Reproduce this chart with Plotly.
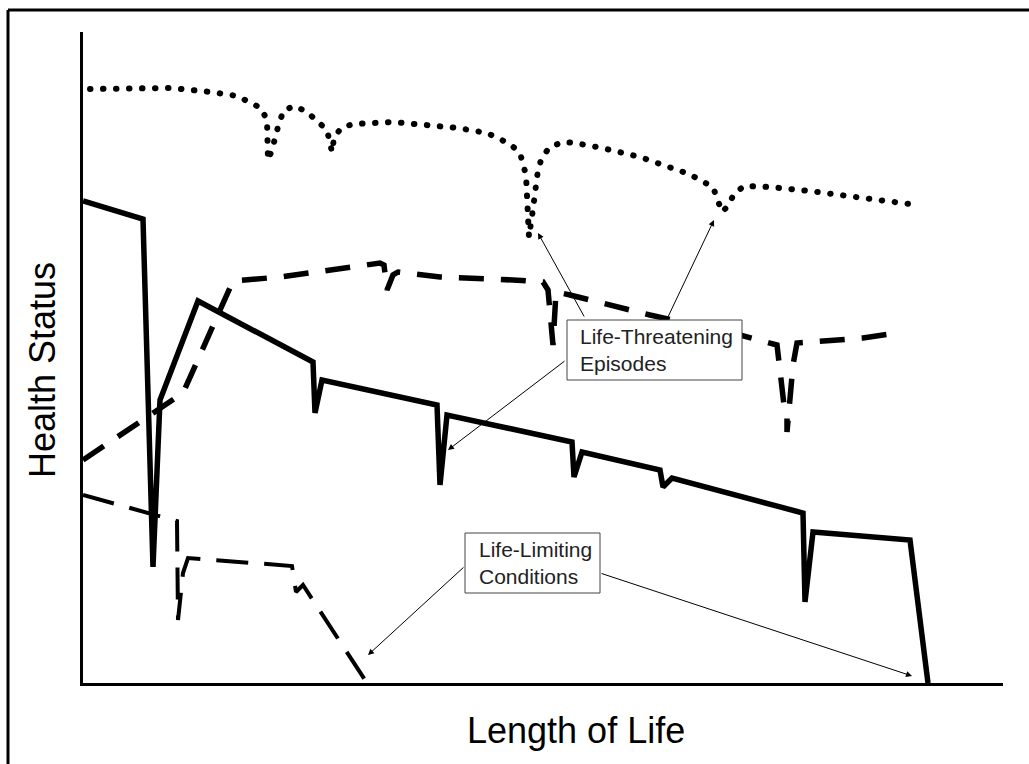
import plotly.graph_objects as go

# Data (x = length of life units, y = health status units)
dot_x = [7, 88, 128, 154, 178, 184, 185, 189, 196, 201, 212, 224, 244, 249, 251, 258, 270, 310, 375, 404, 427, 437, 443, 446, 450, 455, 459, 467, 480, 492, 519, 557, 606, 630, 639, 645, 651, 661, 687, 727, 780, 834]
dot_y = [594, 595, 591, 587, 575, 563, 523, 533, 560, 573, 577, 571, 553, 531, 545, 555, 559, 561, 555, 550, 539, 530, 508, 446, 474, 513, 526, 536, 541, 540, 535, 526, 509, 496, 471, 477, 489, 497, 496, 492, 485, 478]

solid_x = [0, 60, 70, 77, 115, 230, 232, 239, 354, 357, 364, 489, 491, 499, 577, 580, 589, 720, 722, 730, 827, 845]
solid_y = [482, 464, 116, 283, 382, 321, 270, 303, 278, 198, 268, 241, 206, 231, 213, 196, 205, 170, 81, 151, 143, 0]

dash_x = [0, 100, 150, 197, 269, 297, 301, 304, 310, 315, 357, 430, 460, 465, 470, 473, 487, 567, 657, 694, 701, 704, 704, 710, 714, 780, 807]
dash_y = [223, 290, 402, 406, 416, 420, 418, 393, 408, 411, 406, 403, 401, 393, 338, 391, 388, 368, 348, 338, 278, 273, 251, 318, 340, 345, 349]

low_x = [0, 94, 95, 100, 105, 209, 213, 220, 284]
low_y = [188, 162, 63, 110, 125, 117, 91, 98, 0]

x_title = "Length of Life"
y_title = "Health Status"
lt_label = "Life-Threatening<br>Episodes"
ll_label = "Life-Limiting<br>Conditions"

W, H = 1029, 764
L, R, T, B = 83, 26, 32, 81
PW, PH = W - L - R, H - T - B

def px(v):
    return (v - L) / PW

def py(v):
    return (H - B - v) / PH

fig = go.Figure()
fig.add_trace(go.Scatter(x=dot_x, y=dot_y, mode="lines",
                         line=dict(color="black", width=6, dash="0.5px,12.5px", simplify=False),
                         hoverinfo="skip"))
fig.add_trace(go.Scatter(x=solid_x, y=solid_y, mode="lines",
                         line=dict(color="black", width=5.5, simplify=False),
                         hoverinfo="skip"))
fig.add_trace(go.Scatter(x=dash_x, y=dash_y, mode="lines",
                         line=dict(color="black", width=5.5, dash="25px,17px", simplify=False),
                         hoverinfo="skip"))
fig.add_trace(go.Scatter(x=low_x, y=low_y, mode="lines",
                         line=dict(color="black", width=4, dash="32px,16px", simplify=False),
                         hoverinfo="skip"))

font_lbl = dict(family="Liberation Sans, Arial", size=21, color="#222")
shapes = [
    # label boxes
    dict(type="rect", xref="x", yref="y", x0=484, x1=659, y0=303, y1=363,
         line=dict(color="#444", width=1), fillcolor="white", layer="above"),
    dict(type="rect", xref="x", yref="y", x0=382, x1=517, y0=90, y1=150,
         line=dict(color="#444", width=1), fillcolor="white", layer="above"),
    # outer frame
    dict(type="line", xref="paper", yref="paper", x0=px(8), x1=px(1029), y0=py(10), y1=py(10),
         line=dict(color="black", width=3)),
    dict(type="line", xref="paper", yref="paper", x0=px(8), x1=px(8), y0=py(10), y1=py(764),
         line=dict(color="black", width=3)),
]

annotations = [
    dict(x=495, y=333, xref="x", yref="y", text=lt_label, showarrow=False,
         xanchor="left", yanchor="middle", align="left", font=font_lbl),
    dict(x=394, y=120, xref="x", yref="y", text=ll_label, showarrow=False,
         xanchor="left", yanchor="middle", align="left", font=font_lbl),
    dict(x=px(576), y=py(731), xref="paper", yref="paper", text=x_title, showarrow=False,
         xanchor="center", yanchor="middle",
         font=dict(family="Liberation Sans, Arial", size=36, color="black")),
    dict(x=px(42), y=py(370), xref="paper", yref="paper", text=y_title, showarrow=False,
         textangle=-90, xanchor="center", yanchor="middle",
         font=dict(family="Liberation Sans, Arial", size=36, color="black")),
]

arrows = [
    ((455, 450), (502, 365)),
    ((631, 463), (584, 364)),
    ((365, 233), (483, 323)),
    ((285, 28), (382, 117)),
    ((829, 7), (517, 110)),
]
for (hx, hy), (tx, ty) in arrows:
    annotations.append(dict(x=hx, y=hy, ax=tx, ay=ty, xref="x", yref="y", axref="x", ayref="y",
                            text="", showarrow=True, arrowhead=2, arrowsize=1.2, arrowwidth=1,
                            arrowcolor="black", standoff=0, startstandoff=0))

fig.update_layout(
    width=W, height=H,
    margin=dict(l=L, r=R, t=T, b=B, pad=0),
    paper_bgcolor="white", plot_bgcolor="white",
    showlegend=False,
    shapes=shapes, annotations=annotations,
    xaxis=dict(range=[0, PW], showgrid=False, zeroline=False, showticklabels=False, ticks="",
               showline=True, linecolor="black", linewidth=3, fixedrange=True),
    yaxis=dict(range=[0, PH], showgrid=False, zeroline=False, showticklabels=False, ticks="",
               showline=True, linecolor="black", linewidth=3, fixedrange=True),
)

post = ("document.body.style.margin='0';document.body.style.padding='0';"
        "var t=document.querySelectorAll('.scatterlayer .trace');"
        "if(t.length){t[0].querySelectorAll('path.js-line').forEach(function(p){"
        "p.style.strokeLinecap='round';});}")
fig.write_html("out.html", config={"displayModeBar": False}, post_script=post)
